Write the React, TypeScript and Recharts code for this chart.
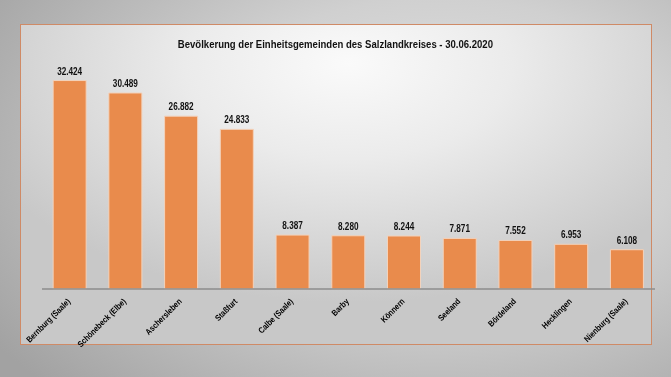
import { BarChart, Bar, XAxis, YAxis, LabelList } from "recharts";

const GEMEINDEN = [
  "Bernburg (Saale)",
  "Schönebeck (Elbe)",
  "Aschersleben",
  "Staßfurt",
  "Calbe (Saale)",
  "Barby",
  "Könnern",
  "Seeland",
  "Bördeland",
  "Hecklingen",
  "Nienburg (Saale)",
];

const EINWOHNER = [32424, 30489, 26882, 24833, 8387, 8280, 8244, 7871, 7552, 6953, 6108];

const data = GEMEINDEN.map((name, i) => ({ name, value: EINWOHNER[i] }));

const FONT = "'Liberation Sans', Arial, sans-serif";

// 32424 -> "32.424"
const fmt = (v: number) => String(v).replace(/\B(?=(\d{3})+(?!\d))/g, ".");

function RotatedTick(props: any) {
  const { x, y, payload } = props;
  return (
    <g transform={`translate(${x + 1},${y + 5}) rotate(-45) scale(0.85,1)`}>
      <text textAnchor="end" fontSize={8.5} fontWeight={600} fill="#000" fontFamily={FONT}>
        {payload.value}
      </text>
    </g>
  );
}

function ValueLabel(props: any) {
  const { x, y, width, value } = props;
  const cx = Number(x) + Number(width) / 2;
  return (
    <g transform={`translate(${cx},${Number(y) - 6}) scale(0.82,1)`}>
      <text textAnchor="middle" fontSize={10} fontWeight="bold" fill="#111" fontFamily={FONT}>
        {fmt(Number(value))}
      </text>
    </g>
  );
}

export default function App() {
  return (
    <div
      style={{
        position: "fixed",
        left: 0,
        top: 0,
        width: 671,
        height: 377,
        overflow: "hidden",
        background:
          "radial-gradient(ellipse 80% 90% at 65% 40%, #e4e4e4 0%, #d0d0d0 45%, #a2a2a2 100%)",
      }}
    >
      {/* Panel */}
      <div
        style={{
          position: "absolute",
          left: 20,
          top: 24,
          width: 630,
          height: 319,
          border: "1px solid #cf8a66",
          background:
            "radial-gradient(ellipse 65% 75% at 52% 12%, #fafafa 0%, #ebebeb 40%, #c8c8c8 100%)",
        }}
      />
      <div
        style={{
          position: "absolute",
          left: 0,
          top: 38,
          width: 671,
          textAlign: "center",
          fontFamily: FONT,
          fontWeight: "bold",
          fontSize: 11.5,
          color: "#111",
          transform: "scaleX(0.83)",
          transformOrigin: "335px 0",
        }}
      >
        Bevölkerung der Einheitsgemeinden des Salzlandkreises - 30.06.2020
      </div>
      <div style={{ position: "absolute", left: 0, top: 0 }}>
        <BarChart
          width={671}
          height={377}
          data={data}
          margin={{ top: 64, right: 16, bottom: 0, left: 42 }}
          barCategoryGap="20%"
        >
          <XAxis
            dataKey="name"
            height={88}
            interval={0}
            tickLine={false}
            axisLine={{ stroke: "#8c8c8c", strokeWidth: 1.5 }}
            tick={<RotatedTick />}
          />
          <YAxis hide domain={[0, 35000]} />
          <Bar
            dataKey="value"
            fill="#e98b4c"
            stroke="#f3d2bb"
            strokeWidth={1}
            isAnimationActive={false}
          >
            <LabelList dataKey="value" content={<ValueLabel />} />
          </Bar>
        </BarChart>
      </div>
    </div>
  );
}
